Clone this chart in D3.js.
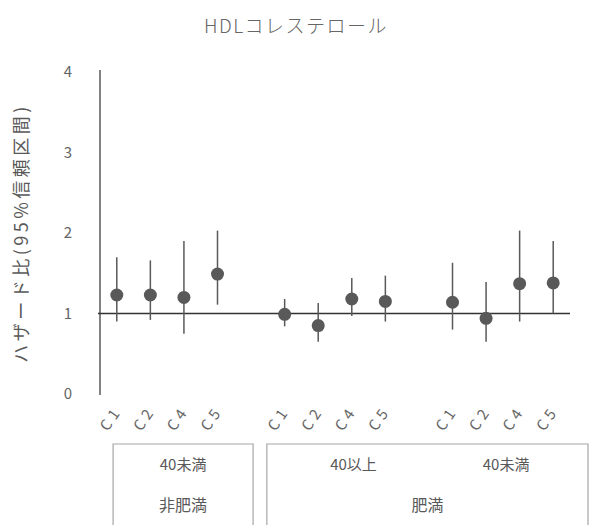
<!DOCTYPE html>
<html>
<head>
<meta charset="utf-8">
<script src="https://cdn.jsdelivr.net/npm/d3@7"></script>
<style>
  html, body { margin: 0; padding: 0; background: #fff; }
  text { font-family: "Noto Sans CJK JP", "Noto Sans", sans-serif; }
</style>
</head>
<body>
<svg id="chart" width="590" height="525"></svg>
<script>
// ---- data ----
const title = "HDLコレステロール";
const yLabel = "ハザード比(95%信頼区間)";
const categories = ["C1", "C2", "C4", "C5", "", "C1", "C2", "C4", "C5", "", "C1", "C2", "C4", "C5"];
const hazard = [1.23, 1.23, 1.20, 1.49, null, 0.99, 0.85, 1.18, 1.15, null, 1.14, 0.94, 1.37, 1.38];
const lower  = [0.90, 0.92, 0.75, 1.11, null, 0.84, 0.65, 0.97, 0.90, null, 0.80, 0.65, 0.90, 1.00];
const upper  = [1.70, 1.66, 1.90, 2.03, null, 1.18, 1.13, 1.44, 1.47, null, 1.63, 1.39, 2.03, 1.90];
const yTicks = [0, 1, 2, 3, 4];
const ageGroups = ["40未満", "40以上", "40未満"];
const bodyGroups = ["非肥満", "肥満"];

// ---- layout ----
const svg = d3.select("#chart");
const plotLeft = 100, plotRight = 570, plotTop = 72, plotBottom = 394;
const x = d3.scaleBand().domain(d3.range(categories.length)).range([plotLeft, plotRight]).padding(0);
const y = d3.scaleLinear().domain([0, 4]).range([plotBottom, plotTop]);
const textColor = "#595959";

svg.append("text")
  .attr("x", 296).attr("y", 33)
  .attr("text-anchor", "middle")
  .attr("font-size", 19).attr("font-weight", 300).attr("fill", "#666")
  .attr("letter-spacing", 1.5)
  .text(title);

// y axis label
svg.append("text")
  .attr("transform", "translate(28,233) rotate(-90)")
  .attr("text-anchor", "middle")
  .attr("font-size", 18).attr("fill", textColor)
  .attr("letter-spacing", 3.5)
  .text(yLabel);

// y axis
const yAxis = d3.axisLeft(y).tickValues(yTicks).tickSize(0).tickPadding(28).tickFormat(d3.format("d"));
const gy = svg.append("g").attr("transform", `translate(${plotLeft},0)`).call(yAxis);
gy.select(".domain").attr("stroke", "#595959").attr("stroke-width", 1.5)
  .attr("d", `M0,${plotTop - 2}V${plotBottom + 1}`);
gy.selectAll(".tick text").attr("font-size", 15).attr("fill", "#666")
  .attr("font-family", "'Liberation Sans', sans-serif");

// reference line at 1
svg.append("line")
  .attr("x1", plotLeft - 2).attr("x2", plotRight)
  .attr("y1", y(1)).attr("y2", y(1))
  .attr("stroke", "#333").attr("stroke-width", 1.5);

const idx = d3.range(categories.length).filter(i => hazard[i] !== null);

// error bars
svg.append("g").selectAll("line").data(idx).join("line")
  .attr("x1", i => x(i) + x.bandwidth() / 2)
  .attr("x2", i => x(i) + x.bandwidth() / 2)
  .attr("y1", i => y(lower[i]))
  .attr("y2", i => y(upper[i]))
  .attr("stroke", "#595959").attr("stroke-width", 1.5);

// points
svg.append("g").selectAll("circle").data(idx).join("circle")
  .attr("cx", i => x(i) + x.bandwidth() / 2)
  .attr("cy", i => y(hazard[i]))
  .attr("r", 6.5)
  .attr("fill", "#595959");

// category labels (rotated)
svg.append("g").selectAll("text").data(idx).join("text")
  .attr("transform", i => `translate(${x(i) + x.bandwidth() / 2 - 5},${419}) rotate(-55)`)
  .attr("text-anchor", "middle")
  .attr("dominant-baseline", "middle")
  .attr("font-size", 15).attr("fill", "#666")
  .attr("letter-spacing", 4)
  .attr("font-family", "'Liberation Sans', sans-serif")
  .text(i => categories[i]);

// group boxes
const step = x.step();
const boxTop = 444;
const boxes = [
  { x0: x(0) + 0.39 * step, x1: x(4) + 0.56 * step },
  { x0: x(5) - 0.03 * step, x1: plotRight + 18 }
];
const gb = svg.append("g");
boxes.forEach(b => {
  gb.append("path")
    .attr("d", `M${b.x0},525V${boxTop}H${b.x1}V525`)
    .attr("fill", "none").attr("stroke", "#a6a6a6").attr("stroke-width", 1.2);
});

// age group labels
const ageCenters = [
  (boxes[0].x0 + boxes[0].x1) / 2,
  boxes[1].x0 + (boxes[1].x1 - boxes[1].x0) * 0.27,
  boxes[1].x0 + (boxes[1].x1 - boxes[1].x0) * 0.745
];
svg.append("g").selectAll("text").data(ageGroups).join("text")
  .attr("x", (d, i) => ageCenters[i]).attr("y", 470)
  .attr("text-anchor", "middle")
  .attr("font-size", 15).attr("fill", textColor)
  .text(d => d);

svg.append("g").selectAll("text").data(bodyGroups).join("text")
  .attr("x", (d, i) => (boxes[i].x0 + boxes[i].x1) / 2).attr("y", 511)
  .attr("text-anchor", "middle")
  .attr("font-size", 16).attr("fill", textColor)
  .text(d => d);
</script>
</body>
</html>
